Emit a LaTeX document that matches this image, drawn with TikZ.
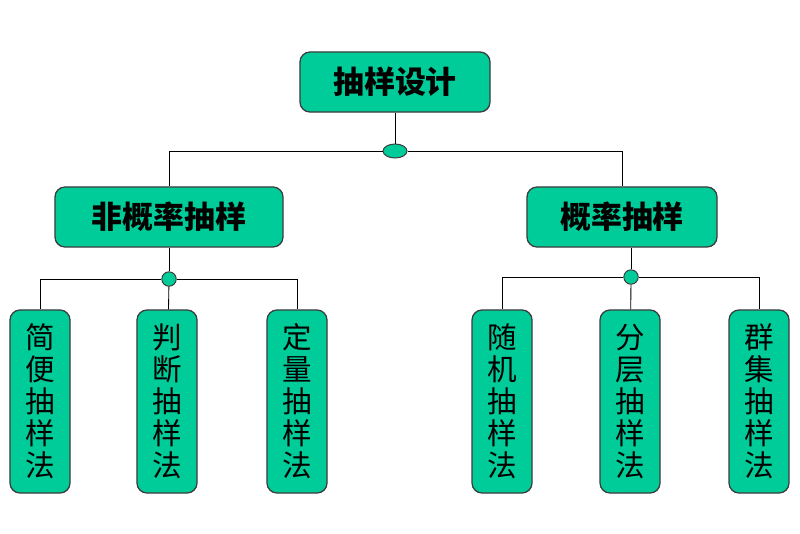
\documentclass[tikz,border=0pt]{standalone}
\usepackage{fontspec}
\newfontfamily\cjk{Noto Sans CJK SC}
\definecolor{boxgreen}{RGB}{0,204,153}
\definecolor{boxedge}{RGB}{60,60,60}
\tikzset{
    mainbox/.style={draw=boxedge, fill=boxgreen, line width=0.9pt, rounded corners=0.25cm,
        minimum height=1.5cm, inner sep=0pt, font=\cjk\bfseries\fontsize{22}{24}\selectfont},
    leafbox/.style={draw=boxedge, fill=boxgreen, line width=0.9pt, rounded corners=0.25cm,
        minimum width=1.5cm, minimum height=4.575cm, inner sep=0pt, align=center,
        font=\cjk\fontsize{21}{22.8}\selectfont},
    hub/.style={draw=boxedge, fill=boxgreen, line width=0.7pt, ellipse, inner sep=0pt},
    link/.style={draw=black, line width=0.6pt}
}
\usetikzlibrary{shapes.geometric}
\begin{document}
\begin{tikzpicture}[x=0.025cm, y=-0.025cm]

    % Fix the page to the size of the reference
    \useasboundingbox (0,0) rectangle (800,533);

    % Top box
    \node[mainbox, minimum width=4.75cm] (design) at (395,82) {抽样设计};

    % Second level boxes
    \node[mainbox, minimum width=5.7cm] (nonprob) at (169,217) {非概率抽样};
    \node[mainbox, minimum width=4.75cm] (prob) at (622,217) {概率抽样};

    % Junction points
    \node[hub, minimum width=0.6cm, minimum height=0.35cm] (tophub) at (395,151) {};
    \node[hub, minimum width=0.36cm, minimum height=0.36cm] (lefthub) at (169,279) {};
    \node[hub, minimum width=0.36cm, minimum height=0.36cm] (righthub) at (631,277) {};

    % Leaves under the non-probability box
    \node[leafbox] (simple) at (40,401.5) {简\\便\\抽\\样\\法};
    \node[leafbox] (judge) at (167,401.5) {判\\断\\抽\\样\\法};
    \node[leafbox] (quota) at (297,401.5) {定\\量\\抽\\样\\法};

    % Leaves under the probability box
    \node[leafbox] (random) at (502,401.5) {随\\机\\抽\\样\\法};
    \node[leafbox] (strata) at (630,401.5) {分\\层\\抽\\样\\法};
    \node[leafbox] (cluster) at (759,401.5) {群\\集\\抽\\样\\法};

    % Connectors from the top box
    \draw[link] (design) -- (tophub);
    \draw[link] (tophub) -| (nonprob);
    \draw[link] (tophub) -| (prob);

    % Connectors of the left branch
    \draw[link] (nonprob) -- (lefthub);
    \draw[link] (lefthub) -| (simple);
    \draw[link] (lefthub) -- (judge);
    \draw[link] (lefthub) -| (quota);

    % Connectors of the right branch
    \draw[link] (prob.south -| righthub) -- (righthub);
    \draw[link] (righthub) -| (random);
    \draw[link] (righthub) -- (strata);
    \draw[link] (righthub) -| (cluster);

\end{tikzpicture}
\end{document}
